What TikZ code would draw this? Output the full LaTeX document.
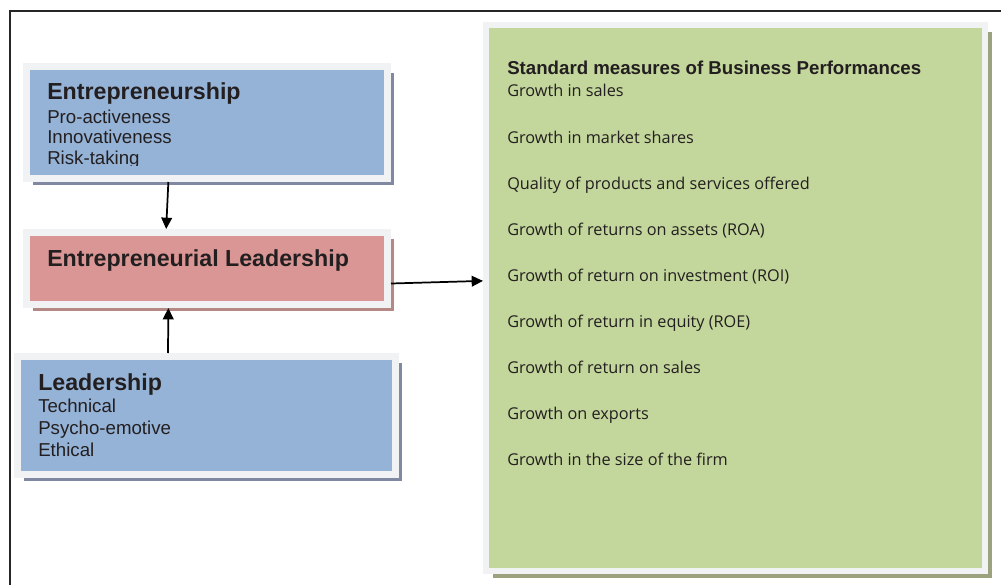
\documentclass[tikz,border=0pt]{standalone}
\usepackage{fontspec}
\setmainfont{Liberation Sans}
\newfontfamily\measurefont{Open Sans}
\usetikzlibrary{arrows.meta,calc,shadows}

\definecolor{blockblue}{HTML}{95B3D7}
\definecolor{blockred}{HTML}{D99694}
\definecolor{blockgreen}{HTML}{C3D69B}
\definecolor{framegray}{HTML}{F0F2F4}
\definecolor{shadeblue}{HTML}{8088A2}
\definecolor{shadered}{HTML}{B48884}
\definecolor{shadegreen}{HTML}{9CA27E}
\definecolor{textdark}{HTML}{231F20}

\tikzset{
  block/.style={rectangle, inner sep=0pt, draw=framegray, line width=5.25pt,
    drop shadow={shadow xshift=5pt, shadow yshift=-5pt, fill=#1, opacity=1}},
  heading/.style={anchor=base west, inner sep=0pt, text=textdark,
    font=\bfseries\fontsize{17.4}{20}\selectfont},
  entry/.style={anchor=base west, inner sep=0pt, text=textdark,
    font=\fontsize{14}{16}\selectfont},
  mheading/.style={anchor=base west, inner sep=0pt, text=textdark,
    font=\bfseries\fontsize{14}{16}\selectfont},
  mentry/.style={anchor=base west, inner sep=0pt, text=textdark,
    font=\measurefont\fontsize{12.2}{14}\selectfont},
  link/.style={line width=1.3pt, -{Triangle[length=8.5pt,width=8pt]}}
}

\begin{document}
\begin{tikzpicture}[x=0.75pt, y=-0.75pt]
  \useasboundingbox (0,0) rectangle (1001,585);

  % Frame
  \draw[line width=1pt, black!85] (10,585) -- (10,11) -- (1001,11);

  % Blocks
  \node[block=shadeblue, fill=blockblue, minimum width=270.75pt, minimum height=84pt]
    (ent) at (207,122.5) {};
  \node[block=shadered, fill=blockred, minimum width=270.75pt, minimum height=54pt]
    (el) at (207,268.5) {};
  \node[block=shadeblue, fill=blockblue, minimum width=283.5pt, minimum height=88.5pt]
    (lead) at (206.5,415.5) {};
  \node[block=shadegreen, fill=blockgreen, draw=framegray, line width=4.5pt,
    minimum width=374.25pt, minimum height=409.5pt] (perf) at (735.5,298) {};

  % Entrepreneurship (last line runs past the text box)
  \node[heading] (ent-head) at (47,100) {Entrepreneurship};
  \begin{scope}
    \clip (30,100) rectangle (384,165.8);
    \foreach \item [count=\i] in {Pro-activeness, Innovativeness, Risk-taking}
      \node[entry] (ent-\i) at (47,102+21*\i) {\item};
  \end{scope}

  % Entrepreneurial leadership
  \node[heading] (el-head) at (47,267) {Entrepreneurial Leadership};

  % Leadership
  \node[heading] (lead-head) at (38,390) {Leadership};
  \foreach \item [count=\i] in {Technical, Psycho-emotive, Ethical}
    \node[entry] (lead-\i) at (38,390+22*\i) {\item};

  % Business performance measures
  \node[mheading] (perf-head) at (507,75) {Standard measures of Business Performances};
  \foreach \item [count=\i] in {Growth in sales, Growth in market shares,
      Quality of products and services offered, Growth of returns on assets (ROA),
      Growth of return on investment (ROI), Growth of return in equity (ROE),
      Growth of return on sales, Growth on exports, Growth in the size of the firm}
    \node[mentry] (perf-\i) at (507,97+46.1*\i-46.1) {\item};

  % Connectors
  \draw[link] ($(ent.south west)!0.395!(ent.south east)$)
    -- ($(el.north west)!0.389!(el.north east)$);
  \draw[link] ($(lead.north west)!0.40!(lead.north east)$)
    -- ($(el.south west)!0.395!(el.south east)$);
  \draw[link] ($(el.north east)!0.69!(el.south east)$)
    -- ($(perf.north west)!0.469!(perf.south west)$);
\end{tikzpicture}
\end{document}
